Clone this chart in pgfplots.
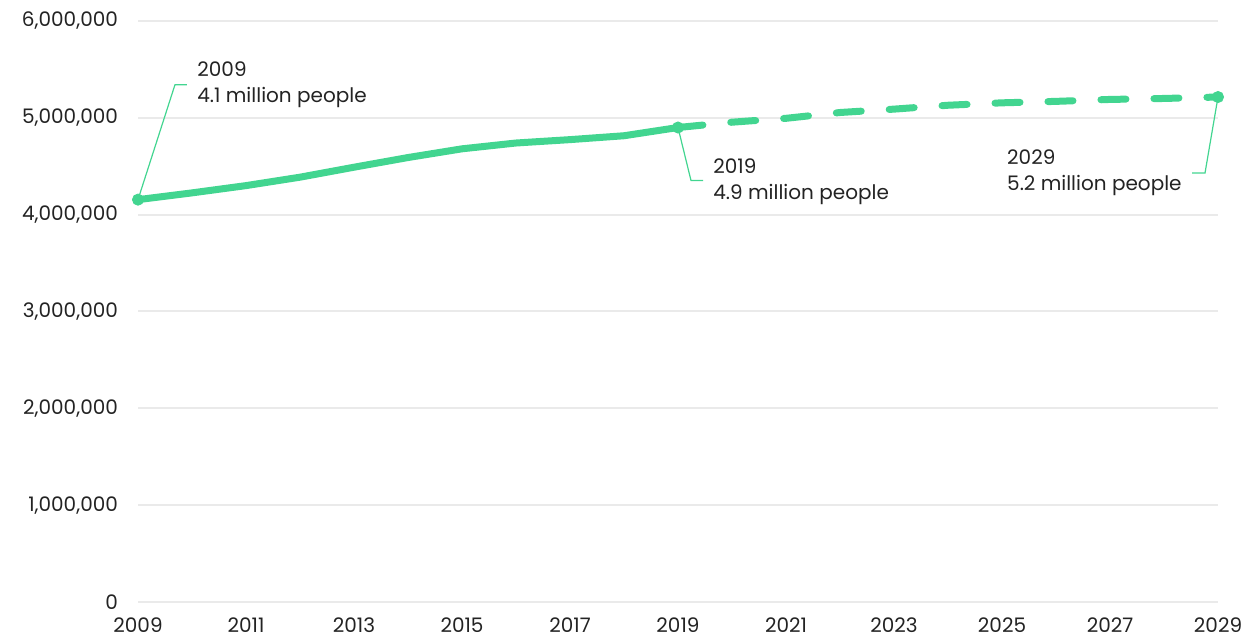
\documentclass[border=0pt]{standalone}
\usepackage{fontspec}
\setmainfont{Poppins}
\usepackage{pgfplots}
\pgfplotsset{compat=1.18}
\definecolor{grn}{RGB}{66,213,144}
\definecolor{grd}{RGB}{234,234,234}
\definecolor{txt}{RGB}{35,35,35}
\begin{document}
\begin{tikzpicture}
\useasboundingbox (-69pt,-17.5pt) rectangle (555pt,301pt);
\begin{axis}[scale only axis, width=540pt, height=290.5pt,
 xmin=2009, xmax=2029, ymin=0, ymax=6000000,
 axis line style={draw=none}, tick style={draw=none},
 xtick={2009,2011,...,2029}, ytick={0,1000000,...,6000000},
 ymajorgrids, grid style={grd, line width=1pt},
 scaled y ticks=false,
 x tick label style={/pgf/number format/1000 sep={}, yshift=-4.5pt},
 y tick label style={xshift=-6.5pt, /pgf/number format/fixed, /pgf/number format/1000 sep={,}},
 /pgf/number format/assume math mode=true,
 ticklabel style={font=\fontsize{10}{12}\selectfont, text=txt},
 clip=false,
]
\addplot[grn, line width=3.5pt, line cap=round, line join=round] coordinates {
(2009,4155000)(2010,4225000)(2011,4300000)(2012,4387000)(2013,4490000)(2014,4590000)(2015,4680000)(2016,4740000)(2017,4775000)(2018,4815000)(2019,4900000)};
\addplot[grn, line width=3.5pt, line cap=round, dash pattern=on 12.5pt off 14pt] coordinates {
(2019,4900000)(2020,4955000)(2021,4995000)(2022,5055000)(2023,5090000)(2024,5130000)(2025,5155000)(2026,5170000)(2027,5190000)(2028,5200000)(2029,5215000)};
\addplot[only marks, mark=*, mark size=2.8pt, grn] coordinates {(2009,4155000)(2019,4900000)(2029,5215000)};
\draw[grn, line width=0.6pt] (axis cs:2009,4155000) -- ++(18.5pt,57.5pt) -- ++(6pt,0pt);
\node[anchor=west, align=left, inner sep=0pt, text=txt, font=\fontsize{10}{13}\selectfont, xshift=29.5pt, yshift=57.5pt] at (axis cs:2009,4155000) {2009\\4.1 million people};
\draw[grn, line width=0.6pt] (axis cs:2019,4900000) -- ++(6.5pt,-26.5pt) -- ++(6pt,0pt);
\node[anchor=west, align=left, inner sep=0pt, text=txt, font=\fontsize{10}{13}\selectfont, xshift=17.5pt, yshift=-27pt] at (axis cs:2019,4900000) {2019\\4.9 million people};
\draw[grn, line width=0.6pt] (axis cs:2029,5215000) -- ++(-6.5pt,-38pt) -- ++(-6.5pt,0pt);
\node[anchor=east, align=left, inner sep=0pt, text=txt, font=\fontsize{10}{13}\selectfont, xshift=-18pt, yshift=-38pt] at (axis cs:2029,5215000) {2029\\5.2 million people};
\end{axis}
\end{tikzpicture}
\end{document}
